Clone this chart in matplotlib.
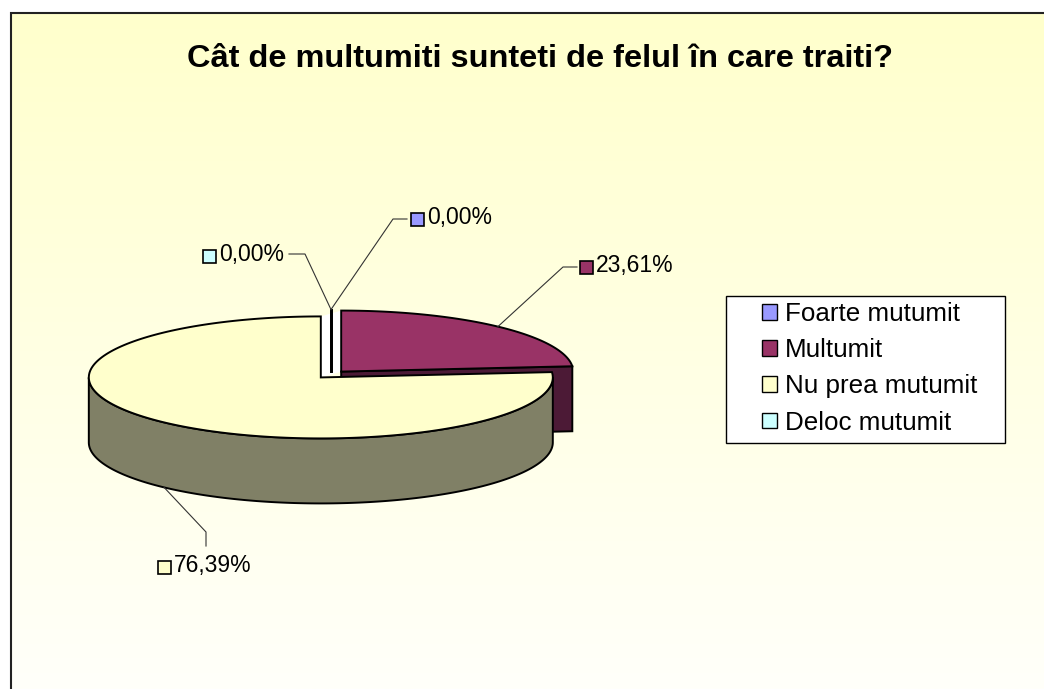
import numpy as np
import matplotlib
matplotlib.use("Agg")
import matplotlib.pyplot as plt
from matplotlib.patches import Polygon, Rectangle, Patch

plt.rcParams['font.family'] = ['Liberation Sans', 'DejaVu Sans']

# ---- data ----
categories = ["Foarte mutumit", "Multumit", "Nu prea mutumit", "Deloc mutumit"]
values = [0.00, 23.61, 76.39, 0.00]
labels = ["0,00%", "23,61%", "76,39%", "0,00%"]
title = "Cât de multumiti sunteti de felul în care traiti?"

# ---- style ----
top_colors = ["#9999FF", "#993366", "#FFFFCC", "#CCFFFF"]
side_colors = ["#4D4D80", "#4C1A36", "#808066", "#668080"]

W, H = 1044, 689
fig = plt.figure(figsize=(W / 100, H / 100), dpi=100)
ax = fig.add_axes([0, 0, 1, 1])
ax.set_xlim(0, W)
ax.set_ylim(H, 0)
ax.axis('off')

# background gradient with frame
g = np.linspace(0, 1, 256)
c_top = np.array([255, 255, 204]) / 255
c_bot = np.array([255, 255, 250]) / 255
img = (c_top[None, :] * (1 - g[:, None]) + c_bot[None, :] * g[:, None])[:, None, :]
ax.imshow(img, extent=(10, W, H, 13), aspect='auto', origin='upper', zorder=0)
ax.plot([10.5, 10.5, W], [H, 12.5, 12.5], color='#222222', lw=1.5, zorder=1,
        solid_joinstyle='miter')

# ---- 3D pie geometry ----
cx, cy = 331, 374.5
rx, ry, depth = 232, 61, 65
explode = 0.065
total = sum(values)
cum = np.cumsum([0] + values)
starts = cum[:-1] / total * 360
ends = cum[1:] / total * 360
mids = (starts + ends) / 2
offs = [(explode * rx * np.sin(np.radians(m)), -explode * ry * np.cos(np.radians(m))) for m in mids]


def pt(theta, ox, oy, dz=0.0):
    t = np.radians(theta)
    return cx + ox + rx * np.sin(t), cy + oy - ry * np.cos(t) + dz


def arc(a, b, ox, oy, dz=0.0, n=200):
    th = np.linspace(a, b, n)
    xs, ys = pt(th, ox, oy, dz)
    return np.column_stack([xs, ys])


LW = 1.4
EC = 'black'

# gap between neighbouring exploded slices at 12 o'clock (white)
nz = [i for i, v in enumerate(values) if v > 0]
first, last = nz[0], nz[-1]
ofx, ofy = offs[first]
olx, oly = offs[last]
gap = [(cx + olx, cy + oly), pt(360, olx, oly), pt(0, ofx, ofy), (cx + ofx, cy + ofy)]
ax.add_patch(Polygon(gap, closed=True, facecolor='white', edgecolor='none', zorder=2))

# radial faces
for i, v in enumerate(values):
    if v <= 0:
        continue
    ox, oy = offs[i]
    c = (cx + ox, cy + oy)
    for ang, normal in ((ends[i], ends[i] + 90), (starts[i], starts[i] - 90)):
        if np.cos(np.radians(normal)) < -1e-6:
            r = pt(ang, ox, oy)
            poly = [c, r, (r[0], r[1] + depth), (c[0], c[1] + depth)]
            ax.add_patch(Polygon(poly, closed=True, facecolor=side_colors[i],
                                 edgecolor=EC, lw=LW, zorder=3))

# outer walls (front half)
for i, v in enumerate(values):
    if v <= 0:
        continue
    ox, oy = offs[i]
    lo, hi = max(starts[i], 90), min(ends[i], 270)
    if hi > lo:
        top = arc(lo, hi, ox, oy)
        bot = arc(hi, lo, ox, oy, depth)
        ax.add_patch(Polygon(np.vstack([top, bot]), closed=True, facecolor=side_colors[i],
                             edgecolor=EC, lw=LW, zorder=4))

# tops
for k, i in enumerate(sorted(nz, key=lambda j: -values[j])):
    ox, oy = offs[i]
    poly = np.vstack([[cx + ox, cy + oy], arc(starts[i], ends[i], ox, oy)])
    ax.add_patch(Polygon(poly, closed=True, facecolor=top_colors[i], edgecolor=EC,
                         lw=LW, zorder=5 + k, joinstyle='miter'))

# zero-value slices as lines
for i, v in enumerate(values):
    if v > 0:
        continue
    ox, oy = offs[i]
    r = pt(starts[i], ox, oy)
    ax.plot([cx + ox, r[0]], [cy + oy, r[1]], color='black', lw=2.0, zorder=9)

# ---- data labels with leader lines ----
label_marker = [(411, 224), (580, 272), (158, 572), (203, 261)]  # marker left x, text baseline y
label_elbow = [((393, 219), (407, 219)), ((563, 267), (577, 267)),
               ((206, 532), (206, 546)), ((305, 254), (289, 254))]
for i in range(len(values)):
    ox, oy = offs[i]
    front = np.cos(np.radians(mids[i])) < 0
    ax_, ay_ = pt(mids[i], ox, oy, depth if front else 0)
    (ex, ey), (fx, fy) = label_elbow[i]
    ax.plot([ax_, ex, fx], [ay_, ey, fy], color='#333333', lw=0.8, zorder=10)
    mx, by = label_marker[i]
    ax.add_patch(Rectangle((mx, by + 2 - 13), 13, 13, facecolor=top_colors[i],
                           edgecolor='black', lw=1.2, zorder=10))
    ax.text(mx + 16, by, labels[i], fontsize=16.5, va='baseline', ha='left', zorder=10)

# ---- title ----
ax.text(540, 67, title, fontsize=23.4, fontweight='bold', ha='center', va='baseline', zorder=10)

# ---- legend ----
ax.add_patch(Rectangle((726, 296), 279, 147, facecolor='white', edgecolor='black',
                       lw=1.0, zorder=10))
handles = [Patch(facecolor=top_colors[i], edgecolor='black', lw=1.0) for i in range(len(values))]
leg = fig.legend(handles, categories, loc='upper left',
                 bbox_to_anchor=(762 / W, 1 - 302 / H), borderaxespad=0, borderpad=0,
                 frameon=False, fontsize=18.7, handlelength=0.56, handleheight=0.56,
                 handletextpad=0.31, labelspacing=0.47)
leg.set_zorder(11)

fig.savefig("out.png", dpi=100)
